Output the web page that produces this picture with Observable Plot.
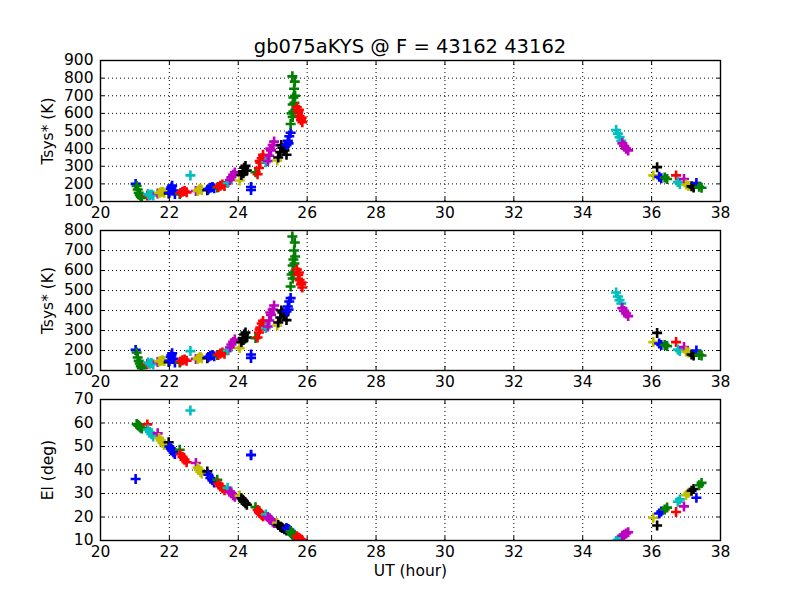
<!DOCTYPE html>
<html>
<head>
<meta charset="utf-8">
<script src="https://cdn.jsdelivr.net/npm/d3@7"></script>
<script src="https://cdn.jsdelivr.net/npm/@observablehq/plot@0.6"></script>
<style>
  body { margin: 0; background: #fff; }
  #fig { position: relative; width: 800px; height: 600px; background: #fff; font-family: "DejaVu Sans", sans-serif; overflow: hidden; }
  #fig svg { position: absolute; left: 0; overflow: visible; }
  #title { position: absolute; top: 35px; left: 0; width: 820px; text-align: center; font-size: 19.5px; line-height: 24px; color: #000; }
</style>
</head>
<body>
<div id="fig"><div id="title">gb075aKYS @ F = 43162 43162</div></div>
<script>
// ---- data ----
const titleText = "gb075aKYS @ F = 43162 43162";
const xTicks = [20, 22, 24, 26, 28, 30, 32, 34, 36, 38];
const tsys1Ticks = [100, 200, 300, 400, 500, 600, 700, 800, 900];
const tsys2Ticks = [100, 200, 300, 400, 500, 600, 700, 800];
const elTicks = [10, 20, 30, 40, 50, 60, 70];

// colour of each scan (matplotlib classic cycle b g r c m y k)
const scanColors = ["b","g","r","c","m","y","k","b","g","r","c","m","y","k","b","g","r","c","m","y","k",
  "b","g","r","c","m","y","k","b","g","r","c","m","y","k","b","g","r","c","m","y","k","b","g"];

const utByScan = [
  [21.02],[21.05,21.08,21.11,21.14,21.17,21.20],[21.36],[21.38,21.43,21.48,21.53],[21.66],
  [21.70,21.75,21.80,21.85],[21.98],[22.00,22.04,22.08,22.12,22.16,22.06],[22.30],[22.32,22.38,22.44,22.50],
  [22.61],[22.77],[22.82,22.86,22.90,22.94],[23.10],[23.13,23.19,23.25,23.30],[23.39],
  [23.42,23.48,23.54,23.60],[23.69],[23.76,23.80,23.85,23.90],[24.04],[24.09,24.13,24.17,24.21,24.25,24.15],
  [24.37,24.37],[24.50],[24.56,24.60,24.64,24.68,24.72,24.62],[24.80],[24.86,24.90,24.95,25.00,25.04,24.93],
  [25.13],[25.16,25.22,25.28,25.34,25.40,25.25],[25.40,25.44,25.48,25.52,25.46],
  [25.52,25.55,25.58,25.60,25.62,25.64,25.57,25.60,25.63,25.65,25.58],[25.70,25.74,25.78,25.82,25.86,25.76,25.84],
  [34.97,35.02,35.07,35.12],[35.15,35.20,35.26,35.32],[36.05],[36.16],[36.22,36.28],[36.38,36.45],
  [36.71],[36.76,36.82],[36.94],[37.00,37.07],[37.16,37.22],[37.30],[37.38,37.45]
];
const tsys1ByScan = [
  [200],[188,168,150,137,127,120],[134],[142,136,140,134],[145],
  [148,153,156,150],[145],[150,172,190,162,142,180],[143],[148,156,160,152],
  [248],[160],[160,168,172,165],[164],[170,178,182,175],[180],
  [182,190,196,188],[205],[222,238,252,265],[219],[250,272,292,302,275,260],
  [182,165],[266],[255,290,320,345,365,330],[323],[330,360,390,420,440,400],
  [333],[350,380,405,390,365,420],[420,445,470,490,430],
  [540,600,650,690,740,780,810,610,660,700,580],[635,610,585,562,550,620,575],
  [505,485,465,445],[430,415,400,390],[248],[295],[240,232],[236,228],
  [248],[210,200],[228],[196,188],[186,180],[205],[183,178]
];
const tsys2ByScan = [
  [203],[190,165,148,135,122,112],[133],[140,134,137,131],[142],
  [145,149,151,147],[142],[148,168,186,158,140,176],[140],[145,151,155,149],
  [197],[158],[157,164,168,161],[161],[167,174,178,171],[177],
  [178,185,190,184],[200],[215,230,243,255],[212],[242,262,280,290,265,252],
  [180,163],[262],[265,290,315,335,348,305],[312],[320,350,378,405,425,390],
  [325],[340,365,390,376,352,400],[395,420,445,462,405],
  [520,580,625,655,700,740,770,590,635,670,560],[605,578,552,530,515,590,540],
  [490,470,452,435],[412,398,385,372],[242],[288],[235,228],[228,222],
  [242],[205,198],[217],[195,190],[180,175],[200],[178,175]
];
const elByScan = [
  [36.2],[59.6,59.2,58.8,58.4,58.0,57.7],[59.4],[57.2,56.2,55.2,54.3],[55.6],
  [53.6,52.6,51.6,50.6],[51.8],[50.0,49.2,48.3,47.5,46.8,48.8],[48.6],[46.8,45.6,44.4,43.3],
  [65.3],[43.0],[41.0,40.1,39.3,38.5],[39.4],[38.0,36.6,35.6,34.7],[35.8],
  [34.2,33.1,32.2,31.4],[32.4],[30.8,30.1,29.3,28.6],[29.1],[28.0,27.2,26.5,25.8,25.2,26.8],
  [46.5,46.3],[24.2],[23.0,22.2,21.5,20.9,20.3,21.8],[21.1],[20.0,19.3,18.7,18.0,17.5,18.9],
  [17.5],[16.6,15.9,15.3,14.8,14.3,15.6],[15.3,14.9,14.5,14.0,14.7],
  [13.9,13.3,12.8,12.4,12.0,11.6,12.6,12.4,11.9,11.5,12.7],[11.8,11.3,10.8,10.4,10.0,11.0,10.2],
  [9.8,10.3,10.8,11.3],[12.0,12.5,13.0,13.5],[19.7],[16.4],[21.5,22.3],[23.2,24.0],
  [22.1],[26.5,27.5],[24.5],[29.3,30.3],[31.2,31.9],[28.2],[33.5,34.5]
];

// ---- styling ----
const colorMap = {b: "#0000ff", g: "#008000", r: "#ff0000", c: "#00bfbf", m: "#bf00bf", y: "#bfbf00", k: "#000000"};
const points = [];
utByScan.forEach((uts, s) => uts.forEach((u, i) => points.push({
  scan: s, ut: u, tsys1: tsys1ByScan[s][i], tsys2: tsys2ByScan[s][i], el: elByScan[s][i],
  color: colorMap[scanColors[s]]
})));

const plusSymbol = {
  draw(context, size) {
    const r = Math.sqrt(size / Math.PI);
    context.moveTo(-r, 0); context.lineTo(r, 0);
    context.moveTo(0, -r); context.lineTo(0, r);
  }
};

const FS = 15.5;
const fig = document.getElementById("fig");

function panel({yKey, yDomain, yTicks, yLabel, frameTop, frameH, xLabel}) {
  const mt = 20, mb = xLabel ? 50 : 30;
  const marks = [
    Plot.gridX(xTicks, {stroke: "#000", strokeOpacity: 1, strokeWidth: 1, strokeDasharray: "1,3"}),
    Plot.gridY(yTicks, {stroke: "#000", strokeOpacity: 1, strokeWidth: 1, strokeDasharray: "1,3"}),
    Plot.dot(points, {x: "ut", y: yKey, stroke: "color", fill: "none", symbol: plusSymbol, r: 5, strokeWidth: 2.6, clip: true}),
    Plot.frame({stroke: "#000", strokeWidth: 1.4}),
    // tick labels
    Plot.axisX(xTicks, {anchor: "bottom", tickSize: 0, tickPadding: 5, label: null, tickFormat: d => String(d)}),
    Plot.axisY(yTicks, {anchor: "left", tickSize: 0, tickPadding: 7, label: null, tickFormat: d => String(d)}),
    // inward ticks on all sides
    Plot.axisX(xTicks, {anchor: "bottom", tickSize: 4, dy: -4, label: null, tickFormat: () => ""}),
    Plot.axisX(xTicks, {anchor: "top", tickSize: 4, dy: 4, label: null, tickFormat: () => ""}),
    Plot.axisY(yTicks, {anchor: "left", tickSize: 4, dx: 4, label: null, tickFormat: () => ""}),
    Plot.axisY(yTicks, {anchor: "right", tickSize: 4, dx: -4, label: null, tickFormat: () => ""}),
    Plot.text([yLabel], {frameAnchor: "left", text: d => d, rotate: -90, dx: -52, textAnchor: "middle", lineAnchor: "middle", fontSize: FS, fill: "#000"})
  ];
  if (xLabel) {
    marks.push(Plot.text([xLabel], {frameAnchor: "bottom", text: d => d, dy: 31, textAnchor: "middle", lineAnchor: "middle", fontSize: FS, fill: "#000"}));
  }
  const svg = Plot.plot({
    width: 800,
    height: mt + frameH + mb,
    marginLeft: 100, marginRight: 80, marginTop: mt, marginBottom: mb,
    style: {fontFamily: "'DejaVu Sans', sans-serif", fontSize: FS + "px", background: "transparent", color: "#000", overflow: "visible"},
    x: {domain: [20, 38], label: null},
    y: {domain: yDomain, label: null},
    color: {type: "identity"},
    marks
  });
  svg.style.top = (frameTop - mt) + "px";
  fig.appendChild(svg);
}

panel({yKey: "tsys1", yDomain: [100, 900], yTicks: tsys1Ticks, yLabel: "Tsys* (K)", frameTop: 60, frameH: 141});
panel({yKey: "tsys2", yDomain: [100, 800], yTicks: tsys2Ticks, yLabel: "Tsys* (K)", frameTop: 230, frameH: 140});
panel({yKey: "el", yDomain: [10, 70], yTicks: elTicks, yLabel: "El (deg)", frameTop: 399, frameH: 141, xLabel: "UT (hour)"});
</script>
</body>
</html>
